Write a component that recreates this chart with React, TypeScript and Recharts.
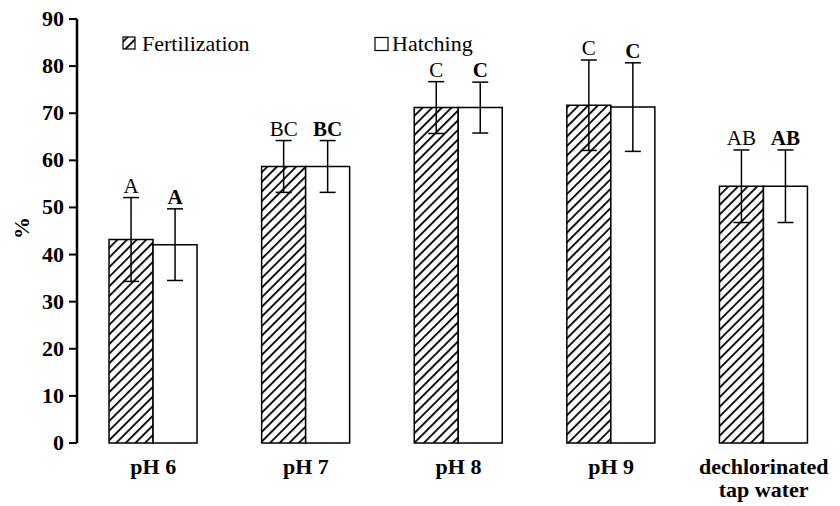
import { ComposedChart, Bar, XAxis, YAxis, ErrorBar, LabelList } from 'recharts'

const categories = ['pH 6', 'pH 7', 'pH 8', 'pH 9', 'dechlorinated\ntap water']
const fertilization = [43.2, 58.7, 71.2, 71.7, 54.5]
const fertilizationSd = [8.9, 5.5, 5.5, 9.6, 7.7]
const hatching = [42.1, 58.7, 71.2, 71.3, 54.5]
const hatchingSd = [7.6, 5.5, 5.4, 9.4, 7.7]
const fertLetters = ['A', 'BC', 'C', 'C', 'AB']
const hatchLetters = ['A', 'BC', 'C', 'C', 'AB']
const yTicks = [0, 10, 20, 30, 40, 50, 60, 70, 80, 90]
const boundaryTicks = [0, 1, 2, 3, 4]

const data = categories.map((name, i) => ({
  name,
  pos: i,
  fert: fertilization[i],
  fertErr: fertilizationSd[i],
  hatch: hatching[i],
  hatchErr: hatchingSd[i],
  fertLetter: fertLetters[i],
  hatchLetter: hatchLetters[i],
}))

const FONT = '"Liberation Serif", "Times New Roman", serif'

// letter above the error bar cap; px-per-unit taken from the bar itself
const letterLabel = (valueKey: string, errKey: string, bold: boolean) => (props: any) => {
  const { x, y, width, height, value, index } = props
  const row = data[index]
  if (!row) return null
  const v = (row as any)[valueKey]
  const e = (row as any)[errKey]
  const ppu = height / v
  const top = y - e * ppu
  return (
    <text
      x={x + width / 2}
      y={top - 5}
      textAnchor="middle"
      style={{ fontFamily: FONT, fontSize: 21, fontWeight: bold ? 'bold' : 'normal' }}
      fill="#000"
    >
      {value}
    </text>
  )
}

const CategoryTick = (props: any) => {
  const { x, payload } = props
  const lines = String(payload.value).split('\n')
  return (
    <g>
      {lines.map((l, i) => (
        <text
          key={i}
          x={x}
          y={474 + i * 23}
          textAnchor="middle"
          style={{ fontFamily: FONT, fontSize: 22, fontWeight: 'bold' }}
          fill="#000"
        >
          {l}
        </text>
      ))}
    </g>
  )
}

const YTick = (props: any) => {
  const { x, y, payload } = props
  return (
    <text x={x} y={y + 7} textAnchor="end" style={{ fontFamily: FONT, fontSize: 22, fontWeight: 'bold' }} fill="#000">
      {payload.value}
    </text>
  )
}

export default function App() {
  return (
    <div style={{ position: 'absolute', left: 0, top: 0, width: 840, height: 506, background: '#fff' }}>
      <ComposedChart width={840} height={506} data={data} margin={{ top: 19, right: 0, left: 0, bottom: 0 }} barCategoryGap="21%" barGap={0}>
        <defs>
          <pattern id="hatch" patternUnits="userSpaceOnUse" width="6.8" height="6.8" patternTransform="rotate(45)">
            <rect width="6.8" height="6.8" fill="#fff" />
            <line x1="0" y1="0" x2="0" y2="6.8" stroke="#000" strokeWidth="3.6" />
          </pattern>
        </defs>
        <XAxis
          xAxisId="b"
          type="number"
          dataKey="pos"
          domain={[0, 5]}
          ticks={boundaryTicks}
          tick={false}
          axisLine={{ stroke: '#000', strokeWidth: 2.5 }}
          tickLine={{ stroke: '#000', strokeWidth: 2 }}
          tickSize={6}
          height={0}
        />
        <XAxis
          dataKey="name"
          axisLine={false}
          tickLine={false}
          tick={<CategoryTick />}
          interval={0}
          height={63}
        />
        <YAxis
          width={77}
          domain={[0, 90]}
          ticks={yTicks}
          interval={0}
          axisLine={{ stroke: '#000', strokeWidth: 2.5 }}
          tickLine={{ stroke: '#000', strokeWidth: 2 }}
          tickSize={8}
          tickMargin={5}
          tick={<YTick />}
        />
        <Bar dataKey="fert" fill="url(#hatch)" stroke="#000" strokeWidth={1.5} isAnimationActive={false}>
          <ErrorBar dataKey="fertErr" width={8} stroke="#000" strokeWidth={1.5} isAnimationActive={false} />
          <LabelList dataKey="fertLetter" content={letterLabel('fert', 'fertErr', false)} />
        </Bar>
        <Bar dataKey="hatch" fill="#fff" stroke="#000" strokeWidth={1.5} isAnimationActive={false}>
          <ErrorBar dataKey="hatchErr" width={8} stroke="#000" strokeWidth={1.5} isAnimationActive={false} />
          <LabelList dataKey="hatchLetter" content={letterLabel('hatch', 'hatchErr', true)} />
        </Bar>
        {/* y label */}
        <text x={29} y={228} transform="rotate(-90 29 228)" textAnchor="middle" style={{ fontFamily: FONT, fontSize: 22, fontWeight: 'bold' }} fill="#000">%</text>
        {/* legend */}
        <g>
          <rect x={123} y={37} width={12} height={12} fill="url(#hatch)" stroke="#000" strokeWidth={1.2} />
          <text x={142} y={51} style={{ fontFamily: FONT, fontSize: 22 }} fill="#000">Fertilization</text>
          <rect x={375} y={37.5} width={13} height={13} fill="#fff" stroke="#000" strokeWidth={1.2} />
          <text x={392} y={51} style={{ fontFamily: FONT, fontSize: 22 }} fill="#000">Hatching</text>
        </g>
      </ComposedChart>
    </div>
  )
}
